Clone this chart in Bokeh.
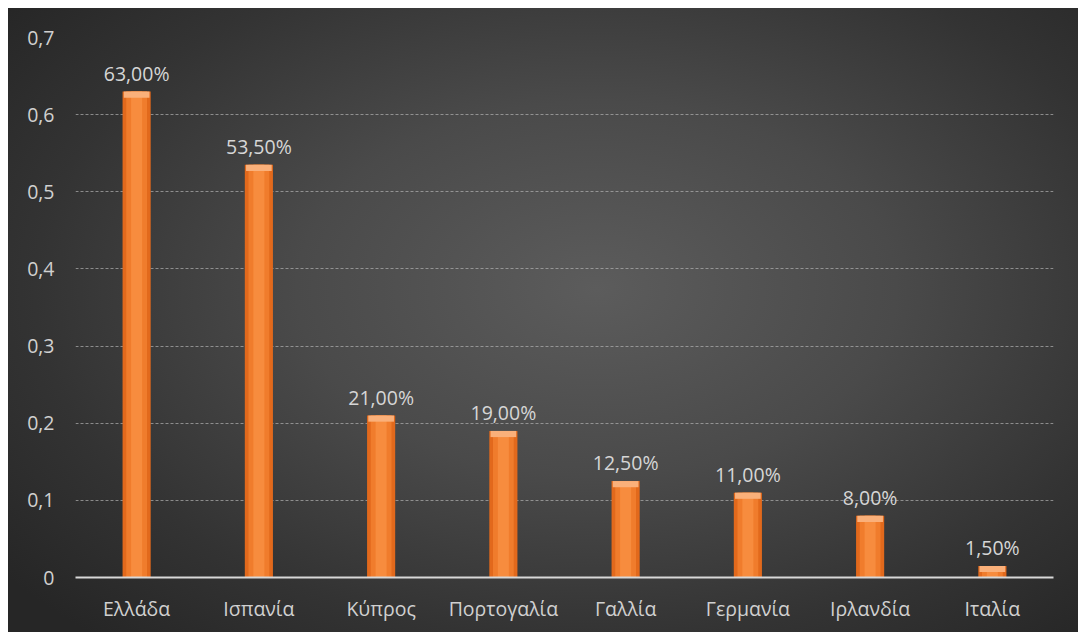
from bokeh.plotting import figure
from bokeh.models import ColumnDataSource, FactorRange, Range1d, FixedTicker, CustomJSTickFormatter
from bokeh.core.properties import value
from bokeh.embed import file_html
from bokeh.resources import INLINE

countries = ["Ελλάδα", "Ισπανία", "Κύπρος", "Πορτογαλία", "Γαλλία", "Γερμανία", "Ιρλανδία", "Ιταλία"]
values = [0.63, 0.535, 0.21, 0.19, 0.125, 0.11, 0.08, 0.015]
labels = ["63,00%", "53,50%", "21,00%", "19,00%", "12,50%", "11,00%", "8,00%", "1,50%"]
y_ticks = [0, 0.1, 0.2, 0.3, 0.4, 0.5, 0.6, 0.7]

FONT = "Open Sans"
FS = "19.5px"

cap_bottom = [v - 0.008 for v in values]
src = ColumnDataSource(dict(x=countries, top=values, cap=cap_bottom, label=labels))

p = figure(
    width=1070, height=624,
    x_range=FactorRange(*countries, range_padding=0),
    y_range=Range1d(0, 0.7),
    output_backend="svg", toolbar_location=None,
    min_border_left=67, min_border_right=25, min_border_top=29, min_border_bottom=55,
)
p.styles = {
    "margin": "8px 0 0 8px",
    "background-image": "radial-gradient(ellipse 70% 75% at 55% 45%, #5c5c5c 0%, #4a4a4a 40%, #333333 75%, #262626 100%)",
}
p.background_fill_alpha = 0
p.border_fill_alpha = 0
p.outline_line_color = None

# bars: layered to mimic the cylindrical shading
p.vbar(x="x", top="top", bottom=0, width=0.23, source=src, fill_color="#e2691c", line_color=None)
p.vbar(x="x", top="top", bottom=0, width=0.17, source=src, fill_color="#f07c2c", line_color=None)
p.vbar(x="x", top="top", bottom=0, width=0.09, source=src, fill_color="#f78c3e", line_color=None)
p.vbar(x="x", top="top", bottom="cap", width=0.21, source=src, fill_color="#fab07a", line_color=None)

p.text(x="x", y="top", text="label", source=src, text_align="center", text_baseline="bottom",
       y_offset=-5, text_color="#d6d6d6", text_font=value(FONT), text_font_size=FS)

# grid
p.xgrid.grid_line_color = None
p.ygrid.ticker = FixedTicker(ticks=y_ticks)
p.ygrid.grid_line_color = "#b0b0b0"
p.ygrid.grid_line_alpha = 0.7
p.ygrid.grid_line_dash = "3 2"
p.ygrid.grid_line_width = 1

# axes
p.yaxis.ticker = FixedTicker(ticks=y_ticks)
p.yaxis.formatter = CustomJSTickFormatter(code="""
    const s = tick.toFixed(1).replace('.', ',');
    return s === '0,0' ? '0' : s;
""")
p.yaxis.axis_line_color = None
p.yaxis.major_tick_line_color = None
p.yaxis.minor_tick_line_color = None
p.yaxis.major_label_text_color = "#d0d0d0"
p.yaxis.major_label_text_font = FONT
p.yaxis.major_label_text_font_size = FS
p.yaxis.major_label_standoff = 15

p.xaxis.axis_line_color = "#d8d8d8"
p.xaxis.axis_line_width = 2
p.xaxis.major_tick_line_color = None
p.xaxis.minor_tick_line_color = None
p.xaxis.major_label_text_color = "#d0d0d0"
p.xaxis.major_label_text_font = FONT
p.xaxis.major_label_text_font_size = FS
p.xaxis.major_label_standoff = 11

open("out.html", "w").write(file_html(p, INLINE))
